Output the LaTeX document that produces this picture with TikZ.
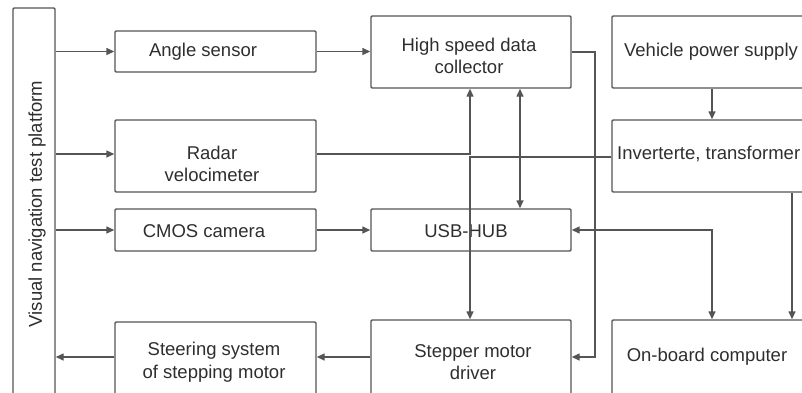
\documentclass[tikz,border=0pt]{standalone}
\usepackage{fontspec}
\setmainfont{Liberation Sans}
\usetikzlibrary{arrows.meta}
\definecolor{linegray}{HTML}{555555}
\definecolor{textgray}{HTML}{2E2E2E}
\tikzset{
  blk/.style={draw=linegray, line width=1.4pt, rounded corners=1.2pt, inner sep=0pt},
  lbl/.style={text=textgray, font=\fontsize{18.5}{22.5}\selectfont, align=center, inner sep=0pt},
  conn/.style={draw=linegray, line width=1.4pt},
  arr/.style={conn, -{Triangle[length=8pt,width=7pt]}},
  darr/.style={conn, {Triangle[length=8pt,width=7pt]}-{Triangle[length=8pt,width=7pt]}},
}
\begin{document}
\begin{tikzpicture}[x=1pt, y=-1pt]
\useasboundingbox (0,0) rectangle (802,392);
\clip (0,0) rectangle (802,392);

% blocks (bottom and right ones run past the frame)
\node[blk, minimum width=42pt,  minimum height=392pt] (plat)  at (34,204)    {};
\node[blk, minimum width=201pt, minimum height=41pt]  (angle) at (215.5,51.5) {};
\node[blk, minimum width=201pt, minimum height=72pt]  (radar) at (215.5,156) {};
\node[blk, minimum width=201pt, minimum height=42pt]  (cmos)  at (215.5,230) {};
\node[blk, minimum width=201pt, minimum height=80pt]  (steer) at (215.5,362) {};
\node[blk, minimum width=200pt, minimum height=72pt]  (hsdc)  at (471,52)    {};
\node[blk, minimum width=200pt, minimum height=42pt]  (usb)   at (471,230)   {};
\node[blk, minimum width=200pt, minimum height=80pt]  (drv)   at (471,360)   {};
\node[blk, minimum width=218pt, minimum height=72pt]  (vps)   at (721,52)    {};
\node[blk, minimum width=218pt, minimum height=72pt]  (inv)   at (721,156)   {};
\node[blk, minimum width=218pt, minimum height=80pt]  (obc)   at (721,360)   {};

% labels
\node[lbl, rotate=90] (tplat) at (37,204) {Visual navigation test platform};
\node[lbl] (tangle) at (203,52)  {Angle sensor};
\node[lbl] (tradar) at (212,164) {Radar\\velocimeter};
\node[lbl] (tcmos)  at (204,231) {CMOS camera};
\node[lbl] (tsteer) at (214,362) {Steering system\\of stepping motor};
\node[lbl] (thsdc)  at (469,56)  {High speed data\\collector};
\node[lbl] (tusb)   at (466,231) {USB-HUB};
\node[lbl] (tdrv)   at (473,362) {Stepper motor\\driver};
\node[lbl] (tvps)   at (711,52)  {Vehicle power supply};
\node[lbl, anchor=west] (tinv) at (617,154) {Inverterte, transformer};
\node[lbl] (tobc)   at (707,357) {On-board computer};

% routing levels and columns
\coordinate (yRadar) at (0,154);
\coordinate (yInv)   at (0,157);
\coordinate (yLow)   at (0,357);
\coordinate (xA)     at (470,0);
\coordinate (xB)     at (520,0);
\coordinate (xC)     at (595,0);
\coordinate (xD)     at (712,0);
\coordinate (xE)     at (792,0);

% platform to sensors
\draw[arr] (plat.east |- angle.west) -- (angle.west);
\draw[arr] (plat.east |- yRadar) -- (radar.west |- yRadar);
\draw[arr] (plat.east |- cmos.west) -- (cmos.west);
\draw[arr] (steer.west |- yLow) -- (plat.east |- yLow);

% sensors to collector / hub
\draw[arr] (angle.east) -- (hsdc.west |- angle.east);
\draw[arr] (radar.east |- yRadar) -| (hsdc.south -| xA);
\draw[arr] (cmos.east) -- (usb.west |- cmos.east);
\draw[darr] (hsdc.south -| xB) -- (usb.north -| xB);

% power and drive lines
\draw[arr] (inv.west |- yInv) -| (drv.north -| xA);
\draw[arr] (hsdc.east) -| (xC |- yLow) -- (drv.east |- yLow);
\draw[arr] (drv.west |- yLow) -- (steer.east |- yLow);
\draw[arr] (vps.south -| xD) -- (inv.north -| xD);
\draw[darr] (usb.east) -| (obc.north -| xD);
\draw[arr] (inv.south -| xE) -- (obc.north -| xE);
\end{tikzpicture}
\end{document}
